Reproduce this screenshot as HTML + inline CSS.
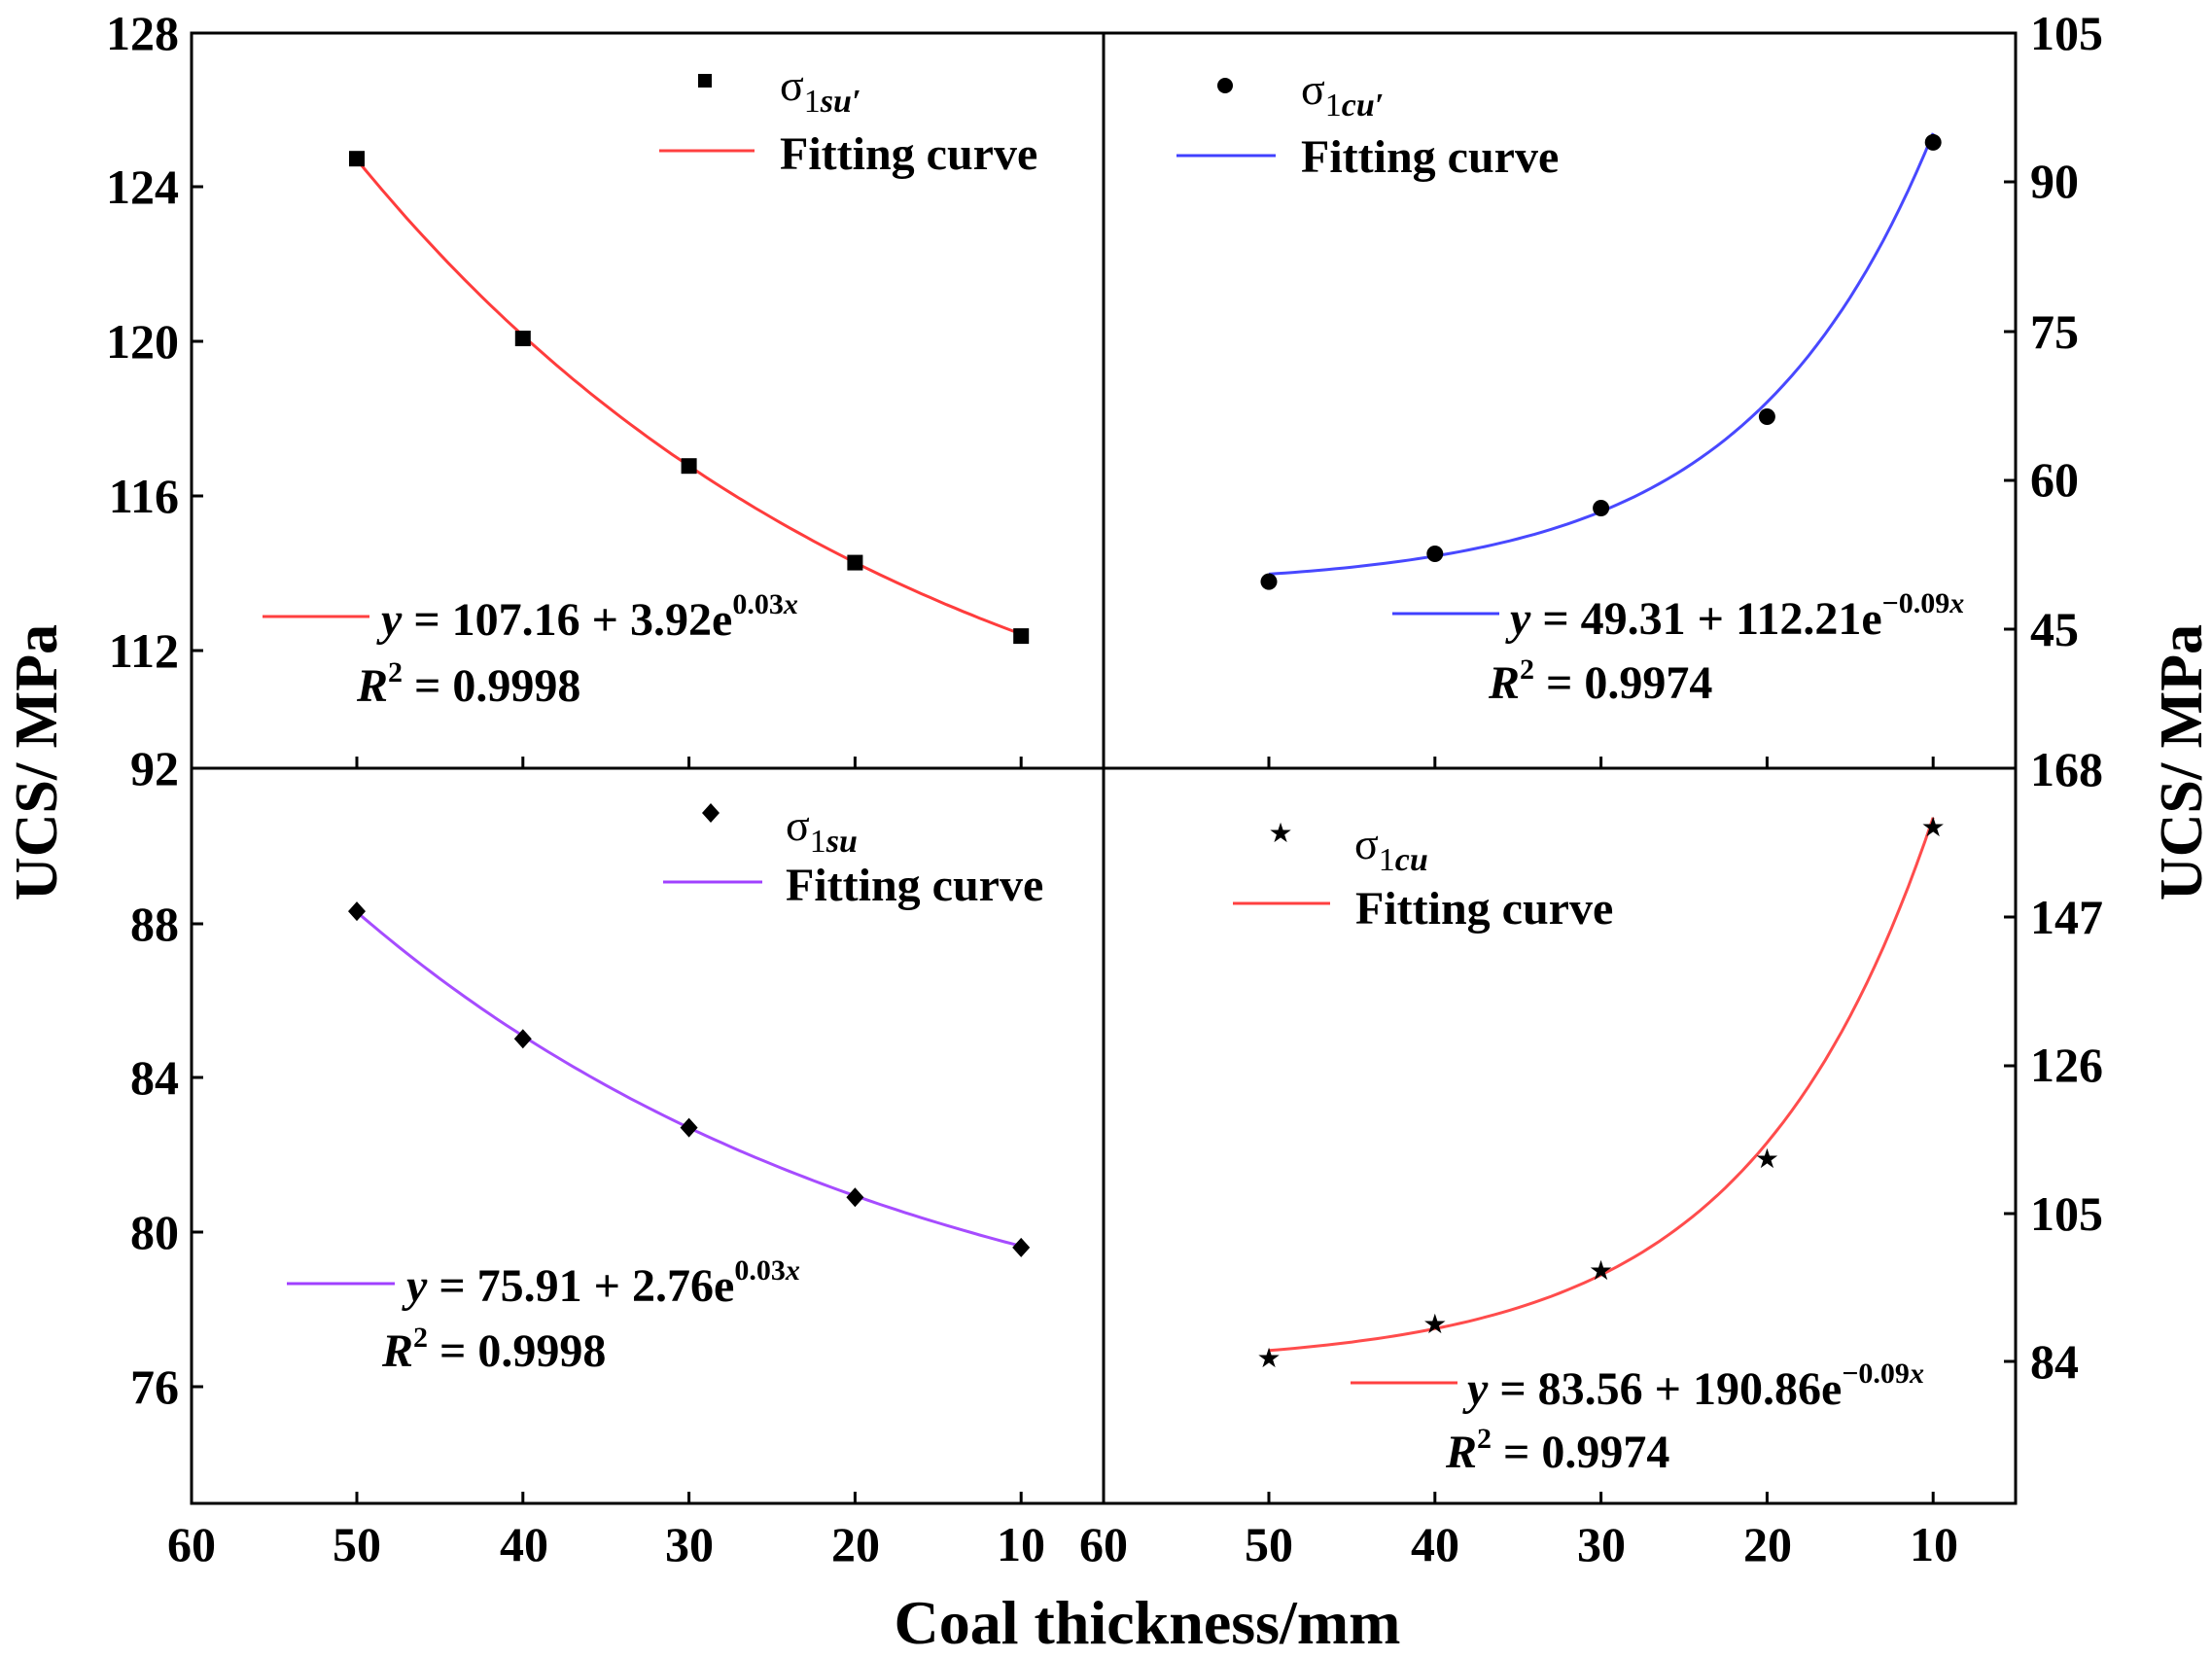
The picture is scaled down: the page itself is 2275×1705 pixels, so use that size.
<!DOCTYPE html>
<html><head><meta charset="utf-8"><style>
html,body{margin:0;padding:0;background:#fff;}
svg{display:block;font-family:"Liberation Serif","Times New Roman",serif;}
svg text{font-family:"Liberation Serif","Times New Roman",serif;fill:#000;}
.t{font-size:50px;font-weight:bold;}
.l{font-size:48px;font-weight:bold;}
.s{font-size:46px;}
</style></head><body>
<svg id="s" width="2275" height="1705" viewBox="0 0 2275 1705" xmlns="http://www.w3.org/2000/svg" font-family="Liberation Serif, serif">
<g stroke="#000" stroke-width="3" fill="none">
<rect x="197" y="34" width="1876" height="1512"/>
<line x1="1135" y1="34" x2="1135" y2="1546"/>
<line x1="197" y1="790" x2="2073" y2="790"/>
</g>
<g id="ticks" stroke="#000" stroke-width="3"></g>
<g id="curves" fill="none" stroke-width="3"></g>
<g id="marks"></g>
<g class="t" text-anchor="end">
<text x="184" y="51">128</text><text x="184" y="209">124</text><text x="184" y="368">120</text>
<text x="184" y="527">116</text><text x="184" y="686">112</text><text x="184" y="807">92</text>
<text x="184" y="967">88</text><text x="184" y="1125">84</text><text x="184" y="1284">80</text><text x="184" y="1443">76</text>
</g>
<g class="t" text-anchor="start">
<text x="2088" y="51">105</text><text x="2088" y="203">90</text><text x="2088" y="358">75</text>
<text x="2088" y="510">60</text><text x="2088" y="664">45</text><text x="2088" y="808">168</text>
<text x="2088" y="960">147</text><text x="2088" y="1112">126</text><text x="2088" y="1265">105</text><text x="2088" y="1417">84</text>
</g>
<g class="t" text-anchor="middle">
<text x="197" y="1605">60</text><text x="367" y="1605">50</text><text x="539" y="1605">40</text><text x="709" y="1605">30</text><text x="880" y="1605">20</text><text x="1050" y="1605">10</text>
<text x="1135" y="1605">60</text><text x="1305" y="1605">50</text><text x="1476" y="1605">40</text><text x="1647" y="1605">30</text><text x="1818" y="1605">20</text><text x="1989" y="1605">10</text>
</g>
<text x="1180" y="1690" text-anchor="middle" style="font-size:64px;font-weight:bold">Coal thickness/mm</text>
<text transform="translate(58,784) rotate(-90)" text-anchor="middle" style="font-size:62px;font-weight:bold">UCS/ MPa</text>
<text transform="translate(2264,784) rotate(-90)" text-anchor="middle" style="font-size:62px;font-weight:bold">UCS/ MPa</text>

<rect x="718" y="76" width="14" height="14" fill="#000"/>
<text x="802" y="103" class="s">σ<tspan dy="12" font-size="34">1</tspan><tspan font-size="34" font-style="italic" font-weight="bold">su′</tspan></text>
<line x1="678" y1="155" x2="776" y2="155" stroke="#ff4040" stroke-width="3"/>
<text x="802" y="174" class="l">Fitting curve</text>

<circle cx="1260" cy="88" r="8" fill="#000"/>
<text x="1338" y="107" class="s">σ<tspan dy="12" font-size="34">1</tspan><tspan font-size="34" font-style="italic" font-weight="bold">cu′</tspan></text>
<line x1="1210" y1="160" x2="1312" y2="160" stroke="#4040ff" stroke-width="3"/>
<text x="1338" y="177" class="l">Fitting curve</text>

<path d="M731 826 l9 10 l-9 10 l-9 -10z" fill="#000"/>
<text x="808" y="864" class="s">σ<tspan dy="12" font-size="34">1</tspan><tspan font-size="34" font-style="italic" font-weight="bold">su</tspan></text>
<line x1="682" y1="907" x2="784" y2="907" stroke="#a040ff" stroke-width="3"/>
<text x="808" y="926" class="l">Fitting curve</text>

<text x="1317" y="866" text-anchor="middle" style="font-size:28px">★</text>
<text x="1393" y="883" class="s">σ<tspan dy="12" font-size="34">1</tspan><tspan font-size="34" font-style="italic" font-weight="bold">cu</tspan></text>
<line x1="1268" y1="929" x2="1368" y2="929" stroke="#ff4040" stroke-width="3"/>
<text x="1394" y="950" class="l">Fitting curve</text>

<line x1="270" y1="634" x2="380" y2="634" stroke="#ff4040" stroke-width="3"/>
<text x="392" y="653" class="l"><tspan font-style="italic">y</tspan> = 107.16 + 3.92e<tspan dy="-22" font-size="30">0.03<tspan font-style="italic">x</tspan></tspan></text>
<text x="367" y="721" class="l"><tspan font-style="italic">R</tspan><tspan dy="-20" font-size="30">2</tspan><tspan dy="20"> = 0.9998</tspan></text>

<line x1="1432" y1="631" x2="1542" y2="631" stroke="#4040ff" stroke-width="3"/>
<text x="1553" y="652" class="l"><tspan font-style="italic">y</tspan> = 49.31 + 112.21e<tspan dy="-22" font-size="30">−0.09<tspan font-style="italic">x</tspan></tspan></text>
<text x="1531" y="718" class="l"><tspan font-style="italic">R</tspan><tspan dy="-20" font-size="30">2</tspan><tspan dy="20"> = 0.9974</tspan></text>

<line x1="295" y1="1320" x2="406" y2="1320" stroke="#a040ff" stroke-width="3"/>
<text x="418" y="1338" class="l"><tspan font-style="italic">y</tspan> = 75.91 + 2.76e<tspan dy="-22" font-size="30">0.03<tspan font-style="italic">x</tspan></tspan></text>
<text x="393" y="1405" class="l"><tspan font-style="italic">R</tspan><tspan dy="-20" font-size="30">2</tspan><tspan dy="20"> = 0.9998</tspan></text>

<line x1="1389" y1="1422" x2="1499" y2="1422" stroke="#ff4040" stroke-width="3"/>
<text x="1509" y="1444" class="l"><tspan font-style="italic">y</tspan> = 83.56 + 190.86e<tspan dy="-22" font-size="30">−0.09<tspan font-style="italic">x</tspan></tspan></text>
<text x="1487" y="1509" class="l"><tspan font-style="italic">R</tspan><tspan dy="-20" font-size="30">2</tspan><tspan dy="20"> = 0.9974</tspan></text>
</svg>
<script>
(function(){
var NS="http://www.w3.org/2000/svg";
function el(p,n,a){var e=document.createElementNS(NS,n);for(var k in a)e.setAttribute(k,a[k]);p.appendChild(e);return e;}
var T=document.getElementById("ticks"),C=document.getElementById("curves"),M=document.getElementById("marks");
function xL(t){return 367+(50-t)*17.08;}
function xR(t){return 1305+(50-t)*17.08;}
var xs=[50,40,30,20,10];
xs.forEach(function(t){
 el(T,"line",{x1:xL(t),y1:790,x2:xL(t),y2:778});
 el(T,"line",{x1:xR(t),y1:790,x2:xR(t),y2:778});
 el(T,"line",{x1:xL(t),y1:1546,x2:xL(t),y2:1534});
 el(T,"line",{x1:xR(t),y1:1546,x2:xR(t),y2:1534});
});
[34,192,351,510,669,950,1108,1267,1426].forEach(function(y){el(T,"line",{x1:197,y1:y,x2:209,y2:y});});
[34,187,341,494,647,943,1096,1248,1400].forEach(function(y){el(T,"line",{x1:2073,y1:y,x2:2061,y2:y});});
var P=[
 {x:xL,y:function(v){return 34+(128-v)*39.75;},f:function(t){return 107.16+3.92*Math.exp(0.03*t);},c:"#ff3c3c",pts:[124.75,120.1,116.8,114.3,112.4],m:"sq"},
 {x:xR,y:function(v){return 34+(105-v)*10.22;},f:function(t){return 49.31+112.21*Math.exp(-0.09*t);},c:"#4848ff",pts:[49.8,52.6,57.2,66.4,94],m:"ci"},
 {x:xL,y:function(v){return 790+(92-v)*39.75;},f:function(t){return 75.91+2.76*Math.exp(0.03*t);},c:"#a64cff",pts:[88.3,85.0,82.7,80.9,79.6],m:"di"},
 {x:xR,y:function(v){return 791+(168-v)*7.262;},f:function(t){return 83.56+190.86*Math.exp(-0.09*t);},c:"#ff4c4c",pts:[84.7,89.5,97.1,112.9,159.9],m:"st"}
];
P.forEach(function(p){
 var d="";for(var t=50;t>=9.99;t-=0.5){d+=(d?"L":"M")+p.x(t).toFixed(1)+" "+p.y(p.f(t)).toFixed(1);}
 el(C,"path",{d:d,stroke:p.c});
 xs.forEach(function(t,i){var X=p.x(t),Y=p.y(p.pts[i]);
  if(p.m=="sq")el(M,"rect",{x:X-8,y:Y-8,width:16,height:16,fill:"#000"});
  else if(p.m=="ci")el(M,"circle",{cx:X,cy:Y,r:8.5,fill:"#000"});
  else if(p.m=="di")el(M,"path",{d:"M"+X+" "+(Y-10)+"l9 10l-9 10l-9 -10z",fill:"#000"});
  else{var s=el(M,"text",{x:X,y:Y+10,"text-anchor":"middle","font-size":"28"});s.textContent="★";}
 });
});
})();
</script>
</body></html>
